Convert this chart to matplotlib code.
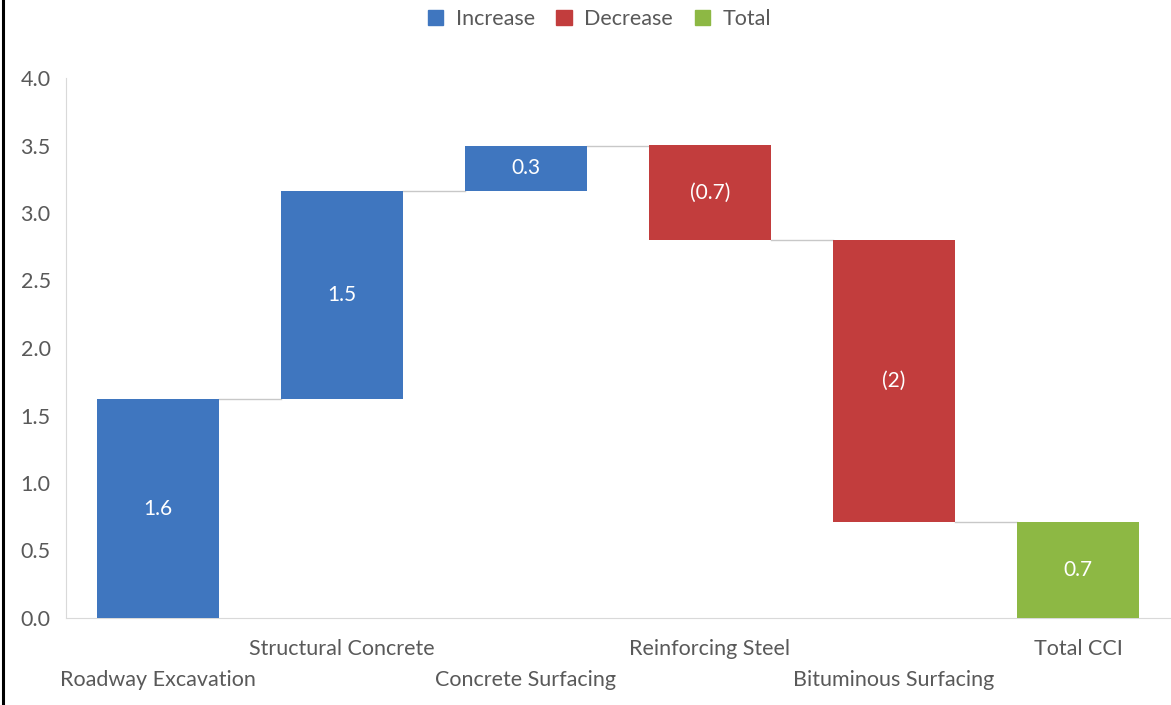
import matplotlib.pyplot as plt
from matplotlib.patches import Patch
from matplotlib.lines import Line2D
import numpy as np

plt.rcParams['font.family'] = ['Lato', 'DejaVu Sans']

# Data
categories = ["Roadway Excavation", "Structural Concrete", "Concrete Surfacing",
              "Reinforcing Steel", "Bituminous Surfacing", "Total CCI"]
changes = [1.62, 1.54, 0.34, -0.70, -2.09]
total = 0.71
value_labels = ["1.6", "1.5", "0.3", "(0.7)", "(2)", "0.7"]
y_ticks = [0.0, 0.5, 1.0, 1.5, 2.0, 2.5, 3.0, 3.5, 4.0]

col_inc = "#3F76BF"
col_dec = "#C23D3D"
col_tot = "#8DB844"
txt_col = "#595959"

fig = plt.figure(figsize=(11.71, 7.05), dpi=100)
ax = fig.add_axes([66 / 1171, 1 - 618 / 705, 1104 / 1171, 540 / 705])

# bases and tops of the floating bars
ends = np.cumsum(changes)
starts = np.concatenate([[0], ends[:-1]])
bottoms = list(np.minimum(starts, ends)) + [0]
heights = list(np.abs(changes)) + [total]
colors = [col_inc if c > 0 else col_dec for c in changes] + [col_tot]

x = np.arange(len(categories))
w = 0.663
ax.bar(x, heights, bottom=bottoms, width=w, color=colors, zorder=3)

# connector lines between bars
levels = list(ends)
for i in range(len(levels)):
    ax.plot([x[i] + w / 2, x[i + 1] - w / 2], [levels[i], levels[i]],
            color="#C8C8C8", lw=1.0, zorder=2)

# value labels inside bars
for i in range(len(categories)):
    ax.text(x[i], bottoms[i] + heights[i] / 2, value_labels[i], color="white",
            ha="center", va="center", fontsize=15, zorder=4)

ax.set_xlim(-0.5, len(categories) - 0.5)
ax.set_ylim(0, 4)
ax.set_yticks(y_ticks)
ax.set_yticklabels([f"{t:.1f}" for t in y_ticks], fontsize=15.5, color=txt_col)
ax.tick_params(axis="y", length=0, pad=11)
ax.set_xticks([])

for s in ["top", "right"]:
    ax.spines[s].set_visible(False)
ax.spines["left"].set_color("#D9D9D9")
ax.spines["bottom"].set_color("#D9D9D9")

# staggered category labels
for i, name in enumerate(categories):
    off = 44.6 if i % 2 == 0 else 22.3
    ax.annotate(name, xy=(x[i], 0), xycoords=("data", "axes fraction"),
                xytext=(0, -off), textcoords="offset points",
                ha="center", va="center", fontsize=15.5, color=txt_col,
                annotation_clip=False)

handles = [Patch(color=col_inc, label="Increase"),
           Patch(color=col_dec, label="Decrease"),
           Patch(color=col_tot, label="Total")]
fig.legend(handles=handles, loc="center", bbox_to_anchor=(0.512, 0.973), ncol=3,
           frameon=False, fontsize=15.5, handlelength=0.7, handleheight=0.7,
           handletextpad=0.6, columnspacing=1.0, labelcolor=txt_col)

# black border at the left edge of the image
fig.add_artist(Line2D([3 / 1171, 3 / 1171], [0, 1], color="black", lw=2.2,
                      transform=fig.transFigure))

fig.savefig("out.png", dpi=100)
